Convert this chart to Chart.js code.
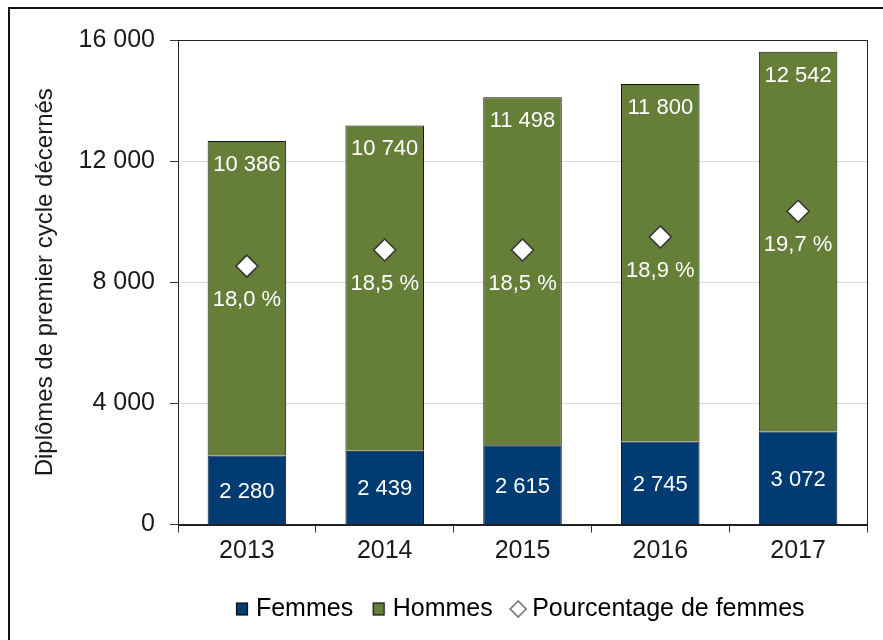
<!DOCTYPE html>
<html>
<head>
<meta charset="utf-8">
<script src="https://cdn.jsdelivr.net/npm/chart.js@4.4.1/dist/chart.umd.min.js"></script>
<style>
  body { margin: 0; background: #fff; }
  #wrap { width: 883px; height: 640px; }
</style>
</head>
<body>
<div id="wrap"><canvas id="chart" width="883" height="640"></canvas></div>
<script>
const years = ["2013", "2014", "2015", "2016", "2017"];
const femmes = [2280, 2439, 2615, 2745, 3072];
const hommes = [10386, 10740, 11498, 11800, 12542];
const pctFemmes = [18.0, 18.5, 18.5, 18.9, 19.7];
const yTicks = [0, 4000, 8000, 12000, 16000];

const BLUE = "#003b71";
const GREEN = "#657f38";
const FONT = "'Liberation Sans', Arial, sans-serif";

// "12542" -> "12 542"
const fmt = (v) => String(v).replace(/\B(?=(\d{3})+(?!\d))/g, " ");
const fmtPct = (v) => v.toFixed(1).replace(".", ",") + " %";

// small swatches for the legend
function swatch(kind, fill) {
  const c = document.createElement("canvas");
  c.width = 18; c.height = 18;
  const g = c.getContext("2d");
  g.fillStyle = fill;
  if (kind === "diamond") {
    g.strokeStyle = "#666";
    g.lineWidth = 1.5;
    g.beginPath();
    g.moveTo(9, 1); g.lineTo(17, 9); g.lineTo(9, 17); g.lineTo(1, 9); g.closePath();
    g.fill(); g.stroke();
  } else {
    g.strokeStyle = "#111";
    g.lineWidth = 1.2;
    g.fillRect(3.5, 3, 11, 12);
    g.strokeRect(3.5, 3, 11, 12);
  }
  return c;
}

const frameAndLabels = {
  id: "frameAndLabels",
  beforeDraw(chart) {
    const ctx = chart.ctx;
    ctx.save();
    ctx.strokeStyle = "#111";
    ctx.lineWidth = 2;
    ctx.beginPath();
    ctx.moveTo(9, 640); ctx.lineTo(9, 8); ctx.lineTo(883, 8);
    ctx.stroke();
    ctx.restore();
  },
  afterDatasetsDraw(chart) {
    const ctx = chart.ctx;
    const a = chart.chartArea;
    ctx.save();
    ctx.strokeStyle = "#222";
    ctx.lineWidth = 1;
    ctx.strokeRect(Math.round(a.left) + 0.5, Math.round(a.top) + 0.5,
                   Math.round(a.right - a.left), Math.round(a.bottom - a.top));

    ctx.fillStyle = "#fff";
    ctx.font = "22px " + FONT;
    ctx.textAlign = "center";
    ctx.textBaseline = "middle";
    chart.getDatasetMeta(0).data.forEach((el, i) => {
      ctx.fillText(fmt(femmes[i]), el.x, (el.y + el.base) / 2 + 2);
    });
    chart.getDatasetMeta(1).data.forEach((el, i) => {
      ctx.fillText(fmt(hommes[i]), el.x, el.y + 24);
    });
    chart.getDatasetMeta(2).data.forEach((el, i) => {
      ctx.fillText(fmtPct(pctFemmes[i]), el.x, el.y + 34);
    });
    ctx.restore();
  }
};

new Chart(document.getElementById("chart"), {
  type: "bar",
  data: {
    labels: years,
    datasets: [
      {
        label: "Femmes",
        data: femmes,
        backgroundColor: BLUE,
        borderColor: "#111",
        borderWidth: 1,
        barPercentage: 0.57,
        categoryPercentage: 1
      },
      {
        label: "Hommes",
        data: hommes,
        backgroundColor: GREEN,
        borderColor: "#111",
        borderWidth: 1,
        barPercentage: 0.57,
        categoryPercentage: 1
      },
      {
        type: "line",
        label: "Pourcentage de femmes",
        data: pctFemmes,
        yAxisID: "y1",
        showLine: false,
        order: -1,
        pointStyle: "rectRot",
        pointRadius: 11,
        pointHoverRadius: 11,
        pointBackgroundColor: "#fff",
        pointBorderColor: "#333",
        pointBorderWidth: 1.5
      }
    ]
  },
  options: {
    responsive: false,
    animation: false,
    layout: { padding: { top: 40, right: 16, left: 0, bottom: 8.5 } },
    scales: {
      x: {
        stacked: true,
        offset: true,
        grid: { offset: true, drawOnChartArea: false, tickLength: 8, tickColor: "#333" },
        border: { color: "#222" },
        ticks: { color: "#1a1a1a", font: { family: FONT, size: 25 }, padding: 4 },
        afterFit: (s) => { s.height = 48; }
      },
      y: {
        stacked: true,
        min: 0,
        max: 16000,
        afterBuildTicks: (s) => { s.ticks = yTicks.map(v => ({ value: v })); },
        grid: { color: "#d9d9d9", tickLength: 8, tickColor: "#333" },
        border: { color: "#222" },
        ticks: {
          color: "#1a1a1a",
          font: { family: FONT, size: 25 },
          padding: 15,
          callback: (v) => fmt(v)
        },
        title: {
          display: true,
          text: "Diplômes de premier cycle décernés",
          color: "#1a1a1a",
          font: { family: FONT, size: 24 },
          padding: { top: 31, bottom: 0 }
        },
        afterFit: (s) => { s.width = 178; }
      },
      y1: {
        display: false,
        min: 10,
        max: 25
      }
    },
    plugins: {
      tooltip: { enabled: false },
      legend: {
        position: "bottom",
        fullSize: false,
        labels: {
          color: "#1a1a1a",
          font: { family: FONT, size: 25 },
          usePointStyle: true,
          boxWidth: 3,
          boxHeight: 18,
          padding: 24,
          generateLabels: () => [
            { text: "Femmes", pointStyle: swatch("rect", BLUE), datasetIndex: 0, lineWidth: 0 },
            { text: "Hommes", pointStyle: swatch("rect", GREEN), datasetIndex: 1, lineWidth: 0 },
            { text: "Pourcentage de femmes", pointStyle: swatch("diamond", "#fff"), datasetIndex: 2, lineWidth: 0 }
          ]
        }
      }
    }
  },
  plugins: [frameAndLabels]
});
</script>
</body>
</html>
